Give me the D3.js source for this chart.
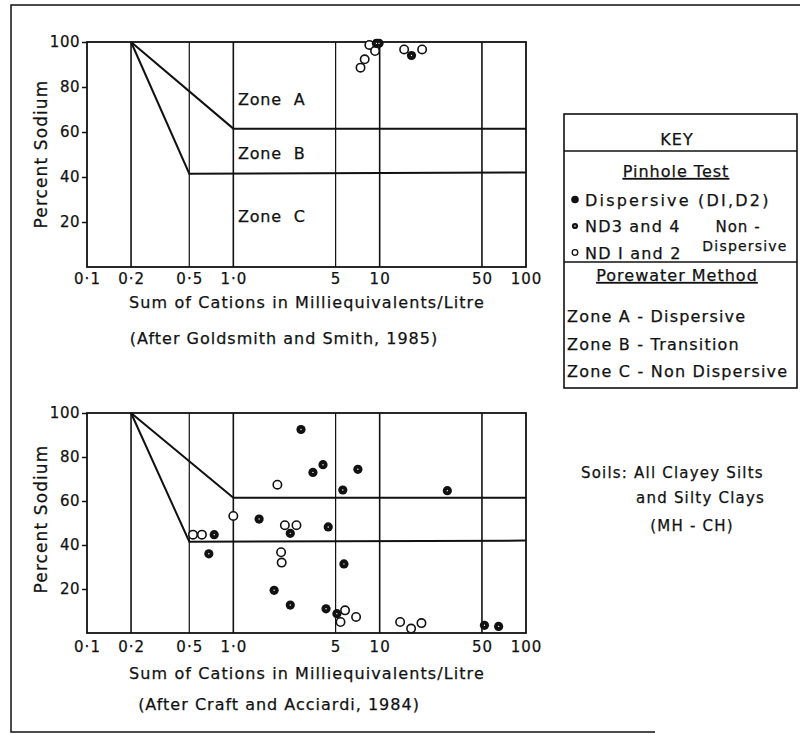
<!DOCTYPE html>
<html lang="en">
<head>
<meta charset="UTF-8">
<title>Percent Sodium vs Sum of Cations</title>
<script src="https://cdn.jsdelivr.net/npm/d3@7/dist/d3.min.js"></script>
<style>
  body { margin: 0; background: #fff; }
  text { font-family: "DejaVu Sans", sans-serif; fill: #111; stroke: #111; stroke-width: 0.25px; }
</style>
</head>
<body>
<script>
  // axis ticks
  var xTicks = [0.1, 0.2, 0.5, 1, 5, 10, 50, 100];
  var xTickLabels = ["0·1", "0·2", "0·5", "1·0", "5", "10", "50", "100"];
  var gridX = [0.2, 0.5, 1, 5, 10, 50];
  var yTicks = [20, 40, 60, 80, 100];

  // zone boundaries (sum of cations, percent sodium)
  var zoneAB = [[0.2, 100], [1, 61.5], [100, 61.5]];
  var zoneBC = [[0.2, 100], [0.5, 41.5], [100, 42]];

  // Goldsmith and Smith, 1985
  var topDispersive = [[9.5, 99.4], [9.9, 99.4], [16.5, 94]];
  var topNonDisp = [[7.4, 88.6], [7.9, 92.3], [8.5, 98.7], [9.3, 96], [14.7, 96.7], [19.5, 96.7]];

  // Craft and Acciardi, 1984
  var botDispersive = [[2.9, 92.5], [3.5, 73], [4.1, 76.5], [7.1, 74.4], [5.6, 65], [29, 64.7],
                       [1.5, 51.8], [2.45, 45.3], [4.45, 48.2], [0.74, 44.7], [0.68, 36], [5.7, 31.4],
                       [1.9, 19.4], [2.45, 12.7], [4.3, 11], [5.1, 8.8], [52, 3.5], [65, 3]];
  var botNonDisp = [[2.0, 67.4], [1.0, 53.2], [2.25, 49], [2.7, 49], [0.53, 44.7], [0.61, 44.7],
                    [2.12, 36.7], [2.14, 32], [5.8, 10.3], [5.4, 5], [6.9, 7.3], [13.8, 5],
                    [16.4, 2], [19.3, 4.5]];

  var keyPinhole = ["Dispersive (DI,D2)", "ND3 and 4", "ND I and 2"];
  var keyZones = ["Zone A - Dispersive", "Zone B - Transition", "Zone C - Non Dispersive"];
  var zoneLabels = ['Zone\u00a0\u00a0A', 'Zone\u00a0\u00a0B', 'Zone\u00a0\u00a0C'];
  var zoneLabelY = [74.5, 50.5, 22.5];

  var width = 800, height = 734;
  var svg = d3.select('body').append('svg')
              .attr('width', width).attr('height', height)
              .style('background', '#fff');

  // outer frame (open on the right like the scan)
  svg.append('path')
     .attr('d', 'M800,5 L11,5 L11,732 L655,732')
     .attr('fill', 'none').attr('stroke', '#111').attr('stroke-width', 1.5);

  function panel(cfg) {
    var x = d3.scaleLog().domain([0.1, 100]).range([87, 526]);
    var y = d3.scaleLinear().domain([0, 100]).range([cfg.bottom, cfg.top]);
    var g = svg.append('g');

    // vertical grid
    g.selectAll('line.grid').data(gridX).enter().append('line')
      .attr('x1', d => x(d)).attr('x2', d => x(d))
      .attr('y1', y(0)).attr('y2', y(100))
      .attr('stroke', '#111').attr('stroke-width', d => (d == 0.5 || d == 5) ? 1.2 : 1.6);

    // zone boundaries
    var line = d3.line().x(d => x(d[0])).y(d => y(d[1]));
    [zoneAB, zoneBC].forEach(z => {
      g.append('path').attr('d', line(z))
        .attr('fill', 'none').attr('stroke', '#111').attr('stroke-width', 2);
    });

    // frame
    g.append('rect')
      .attr('x', x(0.1)).attr('y', y(100))
      .attr('width', x(100) - x(0.1)).attr('height', y(0) - y(100))
      .attr('fill', 'none').attr('stroke', '#111').attr('stroke-width', 1.8);

    // axes
    var xAxis = d3.axisBottom(x).tickValues(xTicks)
                  .tickFormat((d, i) => xTickLabels[i]).tickSize(0).tickPadding(cfg.pad);
    var ax = g.append('g').attr('transform', 'translate(0,' + y(0) + ')').call(xAxis);
    ax.select('.domain').remove();
    ax.selectAll('text').style('font-size', '15px').style('letter-spacing', '1px')
      .style('font-family', '"DejaVu Sans", sans-serif').attr('fill', '#111');

    var yAxis = d3.axisLeft(y).tickValues(yTicks).tickSize(5).tickPadding(2);
    var ay = g.append('g').attr('transform', 'translate(' + x(0.1) + ',0)').call(yAxis);
    ay.select('.domain').remove();
    ay.selectAll('line').attr('stroke', '#111').attr('stroke-width', 1.5);
    ay.selectAll('text').style('font-size', '15px').style('letter-spacing', '0.5px')
      .style('font-family', '"DejaVu Sans", sans-serif').attr('fill', '#111');

    g.append('text').attr('x', 307).attr('y', cfg.titleY)
      .attr('text-anchor', 'middle').style('font-size', '16px').style('letter-spacing', '1.1px')
      .text('Sum of Cations in Milliequivalents/Litre');
    g.append('text').attr('transform', 'translate(47,' + cfg.ytitleY + ') rotate(-90)')
      .attr('text-anchor', 'middle').style('font-size', '17px').style('letter-spacing', '1.1px')
      .text('Percent Sodium');
    g.append('text').attr('x', cfg.capX).attr('y', cfg.capY)
      .attr('text-anchor', 'middle').style('font-size', '16px').style('letter-spacing', '1px')
      .text(cfg.caption);

    // points
    g.selectAll('circle.open').data(cfg.open).enter().append('circle')
      .attr('cx', d => x(d[0])).attr('cy', d => y(d[1])).attr('r', 4.2)
      .attr('fill', '#fff').attr('stroke', '#111').attr('stroke-width', 1.6);
    g.selectAll('circle.disp').data(cfg.disp).enter().append('circle')
      .attr('cx', d => x(d[0])).attr('cy', d => y(d[1])).attr('r', 4.6)
      .attr('fill', '#111');
    g.selectAll('circle.speck').data(cfg.disp).enter().append('circle')
      .attr('cx', d => x(d[0])).attr('cy', d => y(d[1])).attr('r', 0.7)
      .attr('fill', '#fff');

    return {x: x, y: y, g: g};
  }

  var upperPanel = panel({top: 42, bottom: 267, pad: 6, titleY: 308, ytitleY: 154, capX: 284, capY: 344,
                   caption: '(After Goldsmith and Smith, 1985)', disp: topDispersive, open: topNonDisp});
  panel({top: 413, bottom: 633, pad: 8, titleY: 679, ytitleY: 519, capX: 279, capY: 710,
         caption: '(After Craft and Acciardi, 1984)', disp: botDispersive, open: botNonDisp});

  // zone labels on top panel
  upperPanel.g.selectAll('text.zone').data(zoneLabels).enter().append('text')
    .attr('x', 238).attr('y', (d, i) => upperPanel.y(zoneLabelY[i]) + 6)
    .style('font-size', '16px').style('letter-spacing', '0.8px').text(d => d);

  // key box
  var key = svg.append('g');
  key.append('rect').attr('x', 564).attr('y', 114).attr('width', 233).attr('height', 274)
     .attr('fill', 'none').attr('stroke', '#111').attr('stroke-width', 1.6);
  [151, 262].forEach(v => {
    key.append('line').attr('x1', 564).attr('x2', 797).attr('y1', v).attr('y2', v)
       .attr('stroke', '#111').attr('stroke-width', 1.6);
  });
  key.append('text').attr('x', 677).attr('y', 145).attr('text-anchor', 'middle')
     .style('font-size', '16px').style('letter-spacing', '1px').text('KEY');
  key.append('text').attr('x', 676).attr('y', 177).attr('text-anchor', 'middle')
     .style('font-size', '16px').style('letter-spacing', '1px')
     .style('text-decoration', 'underline').text('Pinhole Test');
  key.append('text').attr('x', 677).attr('y', 281).attr('text-anchor', 'middle')
     .style('font-size', '16px').style('letter-spacing', '1px')
     .style('text-decoration', 'underline').text('Porewater Method');

  var rowY = [199.5, 226, 252.5];
  key.selectAll('text.pin').data(keyPinhole).enter().append('text')
     .attr('x', 585).attr('y', (d, i) => rowY[i] + 6)
     .style('font-size', '16px').style('letter-spacing', (d, i) => i == 0 ? '2.2px' : '1.2px')
     .text(d => d);
  key.append('circle').attr('cx', 575).attr('cy', rowY[0]).attr('r', 3.8).attr('fill', '#111');
  key.append('circle').attr('cx', 575).attr('cy', rowY[1]).attr('r', 3.1).attr('fill', '#111');
  key.append('circle').attr('cx', 575).attr('cy', rowY[1]).attr('r', 0.8).attr('fill', '#fff');
  key.append('circle').attr('cx', 575).attr('cy', rowY[2]).attr('r', 2.8)
     .attr('fill', '#fff').attr('stroke', '#111').attr('stroke-width', 1.3);
  key.append('text').attr('x', 738).attr('y', 232).attr('text-anchor', 'middle')
     .style('font-size', '15px').style('letter-spacing', '1px').text('Non -');
  key.append('text').attr('x', 745).attr('y', 251).attr('text-anchor', 'middle')
     .style('font-size', '14px').style('letter-spacing', '1.2px').text('Dispersive');

  key.selectAll('text.zk').data(keyZones).enter().append('text')
     .attr('x', 567).attr('y', (d, i) => 322 + i * 27.5)
     .style('font-size', '16px').style('letter-spacing', '1.2px').text(d => d);

  // soils note
  svg.append('text').attr('x', 581).attr('y', 478).style('font-size', '15px').style('letter-spacing', '1.2px')
     .text('Soils: All Clayey Silts');
  svg.append('text').attr('x', 765).attr('y', 503).attr('text-anchor', 'end')
     .style('font-size', '15px').style('letter-spacing', '1.2px')
     .text('and Silty Clays');
  svg.append('text').attr('x', 692).attr('y', 531).attr('text-anchor', 'middle')
     .style('font-size', '15px').style('letter-spacing', '1.2px')
     .text('(MH - CH)');
</script>
</body>
</html>
